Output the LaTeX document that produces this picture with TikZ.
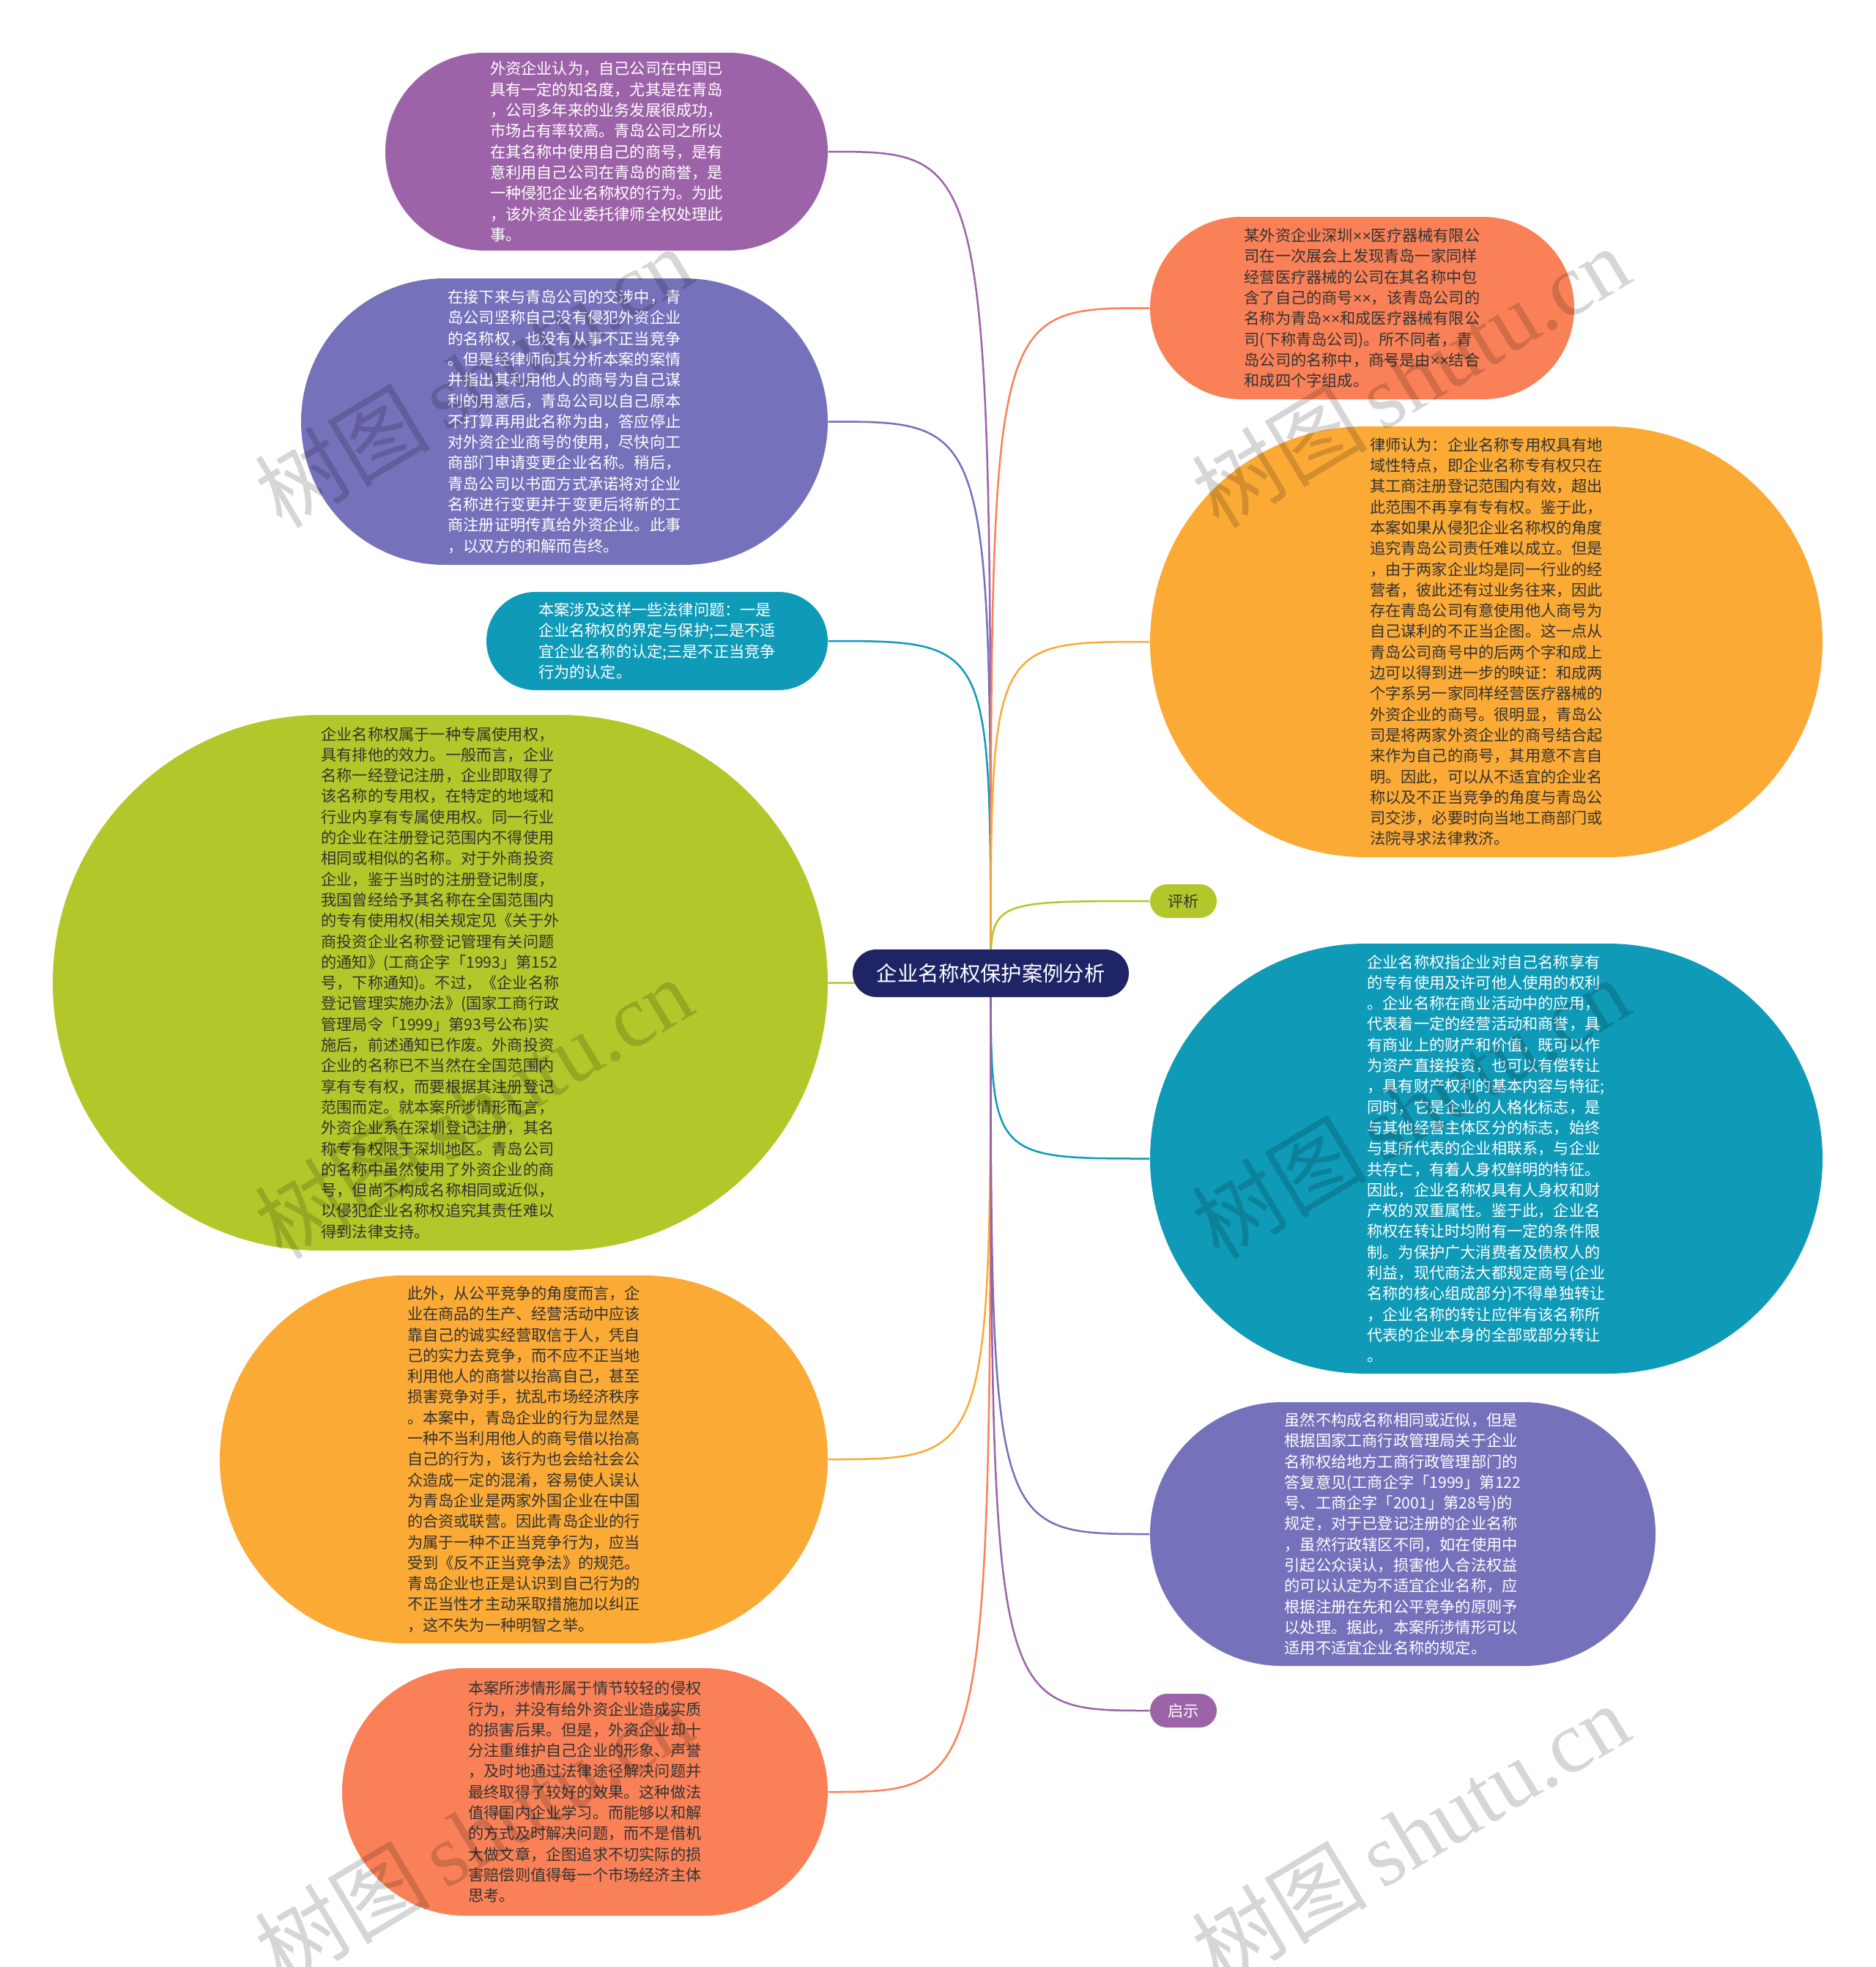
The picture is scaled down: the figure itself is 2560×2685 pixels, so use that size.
\documentclass[tikz,border=0pt]{standalone}
\usepackage{fontspec}
\setmainfont{Liberation Serif}
\newfontfamily\cjk{Noto Sans CJK SC}
\newfontfamily\lat{Liberation Sans}
\usetikzlibrary{shapes.misc,backgrounds}
\pgfdeclarelayer{bottom}
\pgfsetlayers{bottom,background,main}
\definecolor{cpurple}{HTML}{9D63A8}
\definecolor{cblue}{HTML}{7571BA}
\definecolor{cteal}{HTML}{0F9AB8}
\definecolor{cgreen}{HTML}{B3C72B}
\definecolor{cyellow}{HTML}{FBAA36}
\definecolor{corange}{HTML}{FA8157}
\definecolor{cnavy}{HTML}{1F2466}
\definecolor{cdark}{HTML}{333333}
\newcommand\bodyfont{\cjk\fontsize{6.36}{8.49}\selectfont}
\newcommand\rootfont{\cjk\fontsize{8.5}{10}\selectfont}
\newcommand\xx{{\lat ×}}
\tikzset{
  topic/.style n args={3}{rounded rectangle, fill=#1, draw=none, inner sep=0pt,
    minimum width=#2*0.3pt, minimum height=#3*0.3pt},
  txt/.style={align=left, font=\bodyfont, inner sep=0pt, text=#1},
  conn/.style={draw=#1, line width=0.75pt},
  wm/.style={font=\fontsize{36}{40}\selectfont, text=black, opacity=0.16, inner sep=0pt, rotate=31}
}
\begin{document}
\begin{tikzpicture}[x=0.3pt,y=-0.3pt]
\useasboundingbox (0,0) rectangle (2560,2685);
\begin{pgfonlayer}{bottom}
\fill[white] (0,0) rectangle (2560,2685);
\end{pgfonlayer}

% centre
\node[topic={cnavy}{377}{65}] (c) at (1352.5,1328.5) {};
\node[font=\rootfont, text=white, inner sep=0pt] (ct) at (c.center) {企业名称权保护案例分析};

% left nodes
\node[topic={cpurple}{604}{270}] (a1) at (828,207) {};
\node[txt=white] (a1t) at (a1.center) {外资企业认为，自己公司在中国已\\具有一定的知名度，尤其是在青岛\\，公司多年来的业务发展很成功，\\市场占有率较高。青岛公司之所以\\在其名称中使用自己的商号，是有\\意利用自己公司在青岛的商誉，是\\一种侵犯企业名称权的行为。为此\\，该外资企业委托律师全权处理此\\事。};

\node[topic={cblue}{719}{391}] (a2) at (770.5,575.5) {};
\node[txt=white] (a2t) at (a2.center) {在接下来与青岛公司的交涉中，青\\岛公司坚称自己没有侵犯外资企业\\的名称权，也没有从事不正当竞争\\。但是经律师向其分析本案的案情\\并指出其利用他人的商号为自己谋\\利的用意后，青岛公司以自己原本\\不打算再用此名称为由，答应停止\\对外资企业商号的使用，尽快向工\\商部门申请变更企业名称。稍后，\\青岛公司以书面方式承诺将对企业\\名称进行变更并于变更后将新的工\\商注册证明传真给外资企业。此事\\，以双方的和解而告终。};

\node[topic={cteal}{466}{134}] (a3) at (897,875) {};
\node[txt=white] (a3t) at (a3.center) {本案涉及这样一些法律问题：一是\\企业名称权的界定与保护;二是不适\\宜企业名称的认定;三是不正当竞争\\行为的认定。};

\node[topic={cgreen}{1058}{731}] (a4) at (601,1341.5) {};
\node[txt=cdark] (a4t) at (a4.center) {企业名称权属于一种专属使用权，\\具有排他的效力。一般而言，企业\\名称一经登记注册，企业即取得了\\该名称的专用权，在特定的地域和\\行业内享有专属使用权。同一行业\\的企业在注册登记范围内不得使用\\相同或相似的名称。对于外商投资\\企业，鉴于当时的注册登记制度，\\我国曾经给予其名称在全国范围内\\的专有使用权(相关规定见《关于外\\商投资企业名称登记管理有关问题\\的通知》(工商企字「1993」第152\\号，下称通知)。不过，《企业名称\\登记管理实施办法》(国家工商行政\\管理局令「1999」第93号公布)实\\施后，前述通知已作废。外商投资\\企业的名称已不当然在全国范围内\\享有专有权，而要根据其注册登记\\范围而定。就本案所涉情形而言，\\外资企业系在深圳登记注册，其名\\称专有权限于深圳地区。青岛公司\\的名称中虽然使用了外资企业的商\\号，但尚不构成名称相同或近似，\\以侵犯企业名称权追究其责任难以\\得到法律支持。};

\node[topic={cyellow}{830}{502}] (a5) at (715,1992) {};
\node[txt=cdark] (a5t) at (a5.center) {此外，从公平竞争的角度而言，企\\业在商品的生产、经营活动中应该\\靠自己的诚实经营取信于人，凭自\\己的实力去竞争，而不应不正当地\\利用他人的商誉以抬高自己，甚至\\损害竞争对手，扰乱市场经济秩序\\。本案中，青岛企业的行为显然是\\一种不当利用他人的商号借以抬高\\自己的行为，该行为也会给社会公\\众造成一定的混淆，容易使人误认\\为青岛企业是两家外国企业在中国\\的合资或联营。因此青岛企业的行\\为属于一种不正当竞争行为，应当\\受到《反不正当竞争法》的规范。\\青岛企业也正是认识到自己行为的\\不正当性才主动采取措施加以纠正\\，这不失为一种明智之举。};

\node[topic={corange}{663}{338}] (a6) at (798.5,2446) {};
\node[txt=cdark] (a6t) at (a6.center) {本案所涉情形属于情节较轻的侵权\\行为，并没有给外资企业造成实质\\的损害后果。但是，外资企业却十\\分注重维护自己企业的形象、声誉\\，及时地通过法律途径解决问题并\\最终取得了较好的效果。这种做法\\值得国内企业学习。而能够以和解\\的方式及时解决问题，而不是借机\\大做文章，企图追求不切实际的损\\害赔偿则值得每一个市场经济主体\\思考。};

% right nodes
\node[topic={corange}{579}{249}] (b1) at (1859.5,420.5) {};
\node[txt=cdark] (b1t) at (b1.center) {某外资企业深圳\xx\xx 医疗器械有限公\\司在一次展会上发现青岛一家同样\\经营医疗器械的公司在其名称中包\\含了自己的商号\xx\xx，该青岛公司的\\名称为青岛\xx\xx 和成医疗器械有限公\\司(下称青岛公司)。所不同者，青\\岛公司的名称中，商号是由\xx\xx 结合\\和成四个字组成。};

\node[topic={cyellow}{918}{588}] (b2) at (2029,876) {};
\node[txt=cdark] (b2t) at (b2.center) {律师认为：企业名称专用权具有地\\域性特点，即企业名称专有权只在\\其工商注册登记范围内有效，超出\\此范围不再享有专有权。鉴于此，\\本案如果从侵犯企业名称权的角度\\追究青岛公司责任难以成立。但是\\，由于两家企业均是同一行业的经\\营者，彼此还有过业务往来，因此\\存在青岛公司有意使用他人商号为\\自己谋利的不正当企图。这一点从\\青岛公司商号中的后两个字和成上\\边可以得到进一步的映证：和成两\\个字系另一家同样经营医疗器械的\\外资企业的商号。很明显，青岛公\\司是将两家外资企业的商号结合起\\来作为自己的商号，其用意不言自\\明。因此，可以从不适宜的企业名\\称以及不正当竞争的角度与青岛公\\司交涉，必要时向当地工商部门或\\法院寻求法律救济。};

\node[topic={cgreen}{91}{46}] (b3) at (1615.5,1230) {};
\node[txt=cdark] (b3t) at (b3.center) {评析};

\node[topic={cteal}{918}{587}] (b4) at (2029,1581.5) {};
\node[txt=white] (b4t) at (b4.center) {企业名称权指企业对自己名称享有\\的专有使用及许可他人使用的权利\\。企业名称在商业活动中的应用，\\代表着一定的经营活动和商誉，具\\有商业上的财产和价值，既可以作\\为资产直接投资，也可以有偿转让\\，具有财产权利的基本内容与特征;\\同时，它是企业的人格化标志，是\\与其他经营主体区分的标志，始终\\与其所代表的企业相联系，与企业\\共存亡，有着人身权鲜明的特征。\\因此，企业名称权具有人身权和财\\产权的双重属性。鉴于此，企业名\\称权在转让时均附有一定的条件限\\制。为保护广大消费者及债权人的\\利益，现代商法大都规定商号(企业\\名称的核心组成部分)不得单独转让\\，企业名称的转让应伴有该名称所\\代表的企业本身的全部或部分转让\\。};

\node[topic={cblue}{690}{360}] (b5) at (1915,2094) {};
\node[txt=white] (b5t) at (b5.center) {虽然不构成名称相同或近似，但是\\根据国家工商行政管理局关于企业\\名称权给地方工商行政管理部门的\\答复意见(工商企字「1999」第122\\号、工商企字「2001」第28号)的\\规定，对于已登记注册的企业名称\\，虽然行政辖区不同，如在使用中\\引起公众误认，损害他人合法权益\\的可以认定为不适宜企业名称，应\\根据注册在先和公平竞争的原则予\\以处理。据此，本案所涉情形可以\\适用不适宜企业名称的规定。};

\node[topic={cpurple}{91}{46}] (b6) at (1615.5,2335) {};
\node[txt=white] (b6t) at (b6.center) {启示};

% connectors
\begin{scope}[on background layer]
\foreach \n/\col in {a1/cpurple,a2/cblue,a3/cteal,a4/cgreen,a5/cyellow,a6/corange}{
  \draw[conn=\col] (c.center) .. controls (c.center |- \n.east) .. (\n.east);
}
\foreach \n/\col in {b1/corange,b2/cyellow,b3/cgreen,b4/cteal,b5/cblue,b6/cpurple}{
  \draw[conn=\col] (c.center) .. controls (c.center |- \n.west) .. (\n.west);
}
\end{scope}

% watermarks
\foreach \i/\x/\y in {1/646/514,2/1925/514,3/646/1512,4/1925/1512,5/646/2503,6/1925/2503}{
  \node[wm] (w\i) at (\x,\y) {{\cjk 树图}\,shutu.cn};
}
\end{tikzpicture}
\end{document}
